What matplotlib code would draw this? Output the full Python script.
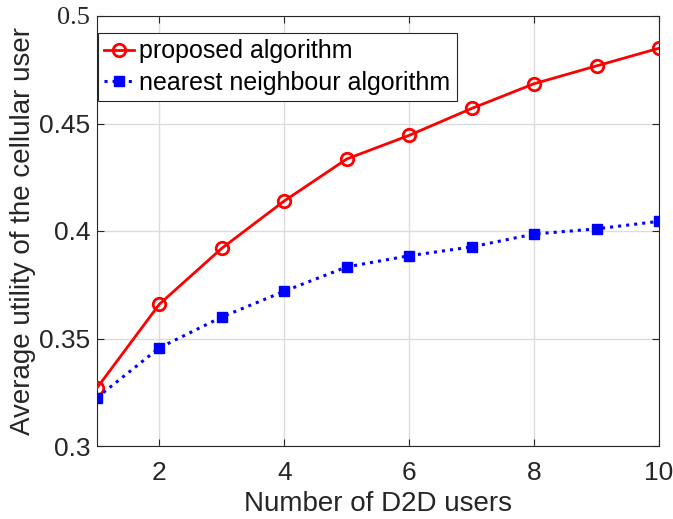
import matplotlib
matplotlib.use("Agg")
import matplotlib.pyplot as plt

# Number of D2D users
d2d_users = [1, 2, 3, 4, 5, 6, 7, 8, 9, 10]
# Average utility of the cellular user
proposed = [0.327, 0.366, 0.392, 0.414, 0.4335, 0.4445, 0.457, 0.4685, 0.4768, 0.485]
nearest = [0.3225, 0.3457, 0.360, 0.372, 0.3833, 0.3885, 0.3926, 0.3986, 0.401, 0.4045]

x_ticks = [2, 4, 6, 8, 10]
y_ticks = [0.3, 0.35, 0.4, 0.45, 0.5]
y_tick_labels = ["0.3", "0.35", "0.4", "0.45", "0.5"]

plt.rcParams["font.family"] = ["Liberation Sans", "DejaVu Sans"]
text_color = "#262626"

fig = plt.figure(figsize=(6.73, 5.19), dpi=100)
ax = fig.add_axes([97 / 673, 1 - 446 / 519, (659 - 97) / 673, (446 - 16) / 519])

ax.plot(d2d_users, proposed, color="red", linestyle="-", linewidth=2,
        marker="o", markersize=9, markerfacecolor="none", markeredgewidth=2,
        label="proposed algorithm", zorder=3)
ax.plot(d2d_users, nearest, color="blue", linestyle=":", linewidth=2.2,
        marker="s", markersize=6.5, markerfacecolor="blue", markeredgecolor="blue",
        label="nearest neighbour algorithm", zorder=3)

ax.set_xlim(1, 10)
ax.set_ylim(0.3, 0.5)
ax.set_xticks(x_ticks)
ax.set_yticks(y_ticks)
ax.set_yticklabels(y_tick_labels)

ax.grid(True, color="#dcdcdc", linewidth=1)
ax.set_axisbelow(True)
for s in ax.spines.values():
    s.set_color(text_color)
    s.set_linewidth(0.8)
ax.tick_params(direction="in", length=5, width=0.8, colors=text_color,
               labelsize=19, top=True, right=True)
ax.tick_params(axis="x", pad=11)
ax.tick_params(axis="y", pad=5)
for lbl in ax.get_xticklabels() + ax.get_yticklabels():
    lbl.set_color(text_color)
ax.get_yticklabels()[-1].set_family(["Liberation Serif", "DejaVu Serif"])

ax.set_xlabel("Number of D2D users", fontsize=20, color=text_color, labelpad=4)
ax.set_ylabel("Average utility of the cellular user", fontsize=20, color=text_color, labelpad=2)

leg = ax.legend(loc="upper left", fontsize=18, frameon=True, fancybox=False,
                edgecolor=text_color, framealpha=1, borderpad=0.25,
                handlelength=1.2, handletextpad=0.2, labelspacing=0.3,
                borderaxespad=0.0, bbox_to_anchor=(0.002, 0.96))
leg.get_frame().set_linewidth(0.8)
for t in leg.get_texts():
    t.set_color("black")

fig.savefig("out.png", dpi=100)
